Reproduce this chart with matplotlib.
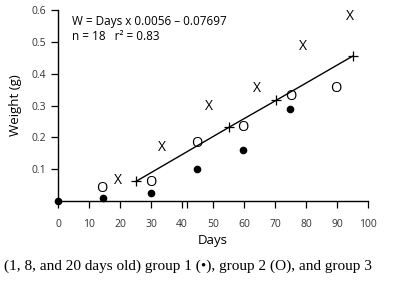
import matplotlib
matplotlib.use("Agg")
import matplotlib.pyplot as plt

# group 1 (filled dots)
g1_days = [0, 14.5, 30, 44.8, 59.7, 74.8]
g1_weight = [0.0, 0.009, 0.025, 0.10, 0.16, 0.29]

# group 2 (O)
g2_days = [14.2, 30, 44.8, 59.7, 75.2, 89.7]
g2_weight = [0.041, 0.057, 0.182, 0.23, 0.327, 0.352]

# group 3 (X)
g3_days = [19.4, 33.5, 48.7, 64.2, 79.0, 94.2]
g3_weight = [0.066, 0.167, 0.296, 0.355, 0.484, 0.579]

# regression line points (+)
fit_days = [25.2, 55.2, 70.3, 95.2]
fit_weight = [0.062, 0.232, 0.316, 0.456]

x_ticks = [0, 10, 20, 30, 40, 50, 60, 70, 80, 90, 100]
y_ticks = [0.1, 0.2, 0.3, 0.4, 0.5, 0.6]

sans = "Open Sans"
fig = plt.figure(figsize=(3.97, 2.94), dpi=100)
ax = fig.add_axes([0.146, 0.316, 0.781, 0.650])

ax.plot(fit_days, fit_weight, color="black", lw=1.0, marker="+", ms=6.5, mew=0.9)
ax.plot(g1_days, g1_weight, "o", color="black", ms=4.5, clip_on=False, zorder=5)
for d, w in zip(g2_days, g2_weight):
    ax.text(d, w, "O", ha="center", va="center", fontsize=10.5, family=sans)
for d, w in zip(g3_days, g3_weight):
    ax.text(d, w, "X", ha="center", va="center", fontsize=10, family=sans)

ax.text(0.045, 0.94, "W = Days x 0.0056 \u2013 0.07697", transform=ax.transAxes,
        fontsize=8.5, family=sans, va="center")
ax.text(0.045, 0.86, "n = 18   r\u00b2 = 0.83", transform=ax.transAxes,
        fontsize=8.5, family=sans, va="center")

ax.set_xlim(0, 100)
ax.set_ylim(0, 0.6)
ax.set_xticks(x_ticks)
ax.set_xticklabels([str(t) for t in x_ticks])
ax.set_xticks([41.5], minor=True)
ax.set_yticks(y_ticks)
ax.set_yticklabels([f"{t:.1f}" for t in y_ticks])
for s in ["top", "right"]:
    ax.spines[s].set_visible(False)
for s in ["left", "bottom"]:
    ax.spines[s].set_linewidth(1.0)
ax.tick_params(axis="both", which="both", length=5, width=0.9, direction="out",
               labelsize=7.5, labelcolor="#333333")
ax.tick_params(axis="x", pad=8)
ax.tick_params(axis="x", which="minor", length=5, width=0.9)
for lab in ax.get_xticklabels() + ax.get_yticklabels():
    lab.set_family(sans)

ax.set_xlabel("Days", fontsize=9.5, family=sans, labelpad=3)
ax.set_ylabel("Weight (g)", fontsize=9.5, family=sans, labelpad=7)

fig.text(0.01, 0.095, "(1, 8, and 20 days old) group 1 (\u2022), group 2 (O), and group 3",
         fontsize=11, family="Liberation Serif", va="center")

fig.savefig("out.png", dpi=100)
